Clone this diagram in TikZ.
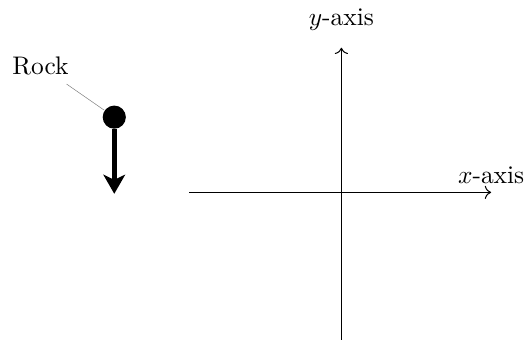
\documentclass[tikz,border=0pt]{standalone}
\usetikzlibrary{arrows.meta}
\begin{document}
\begin{tikzpicture}

\useasboundingbox (-4.72,-2.03) rectangle (2.58,2.66);

% Axes
\draw[->] (-2.1,0) -- (2.07,0) node[above] (xlabel) {$x$-axis};
\draw[->] (0,-2.1) -- (0,2.0);
\node[anchor=base] (ylabel) at (0,2.31) {$y$-axis};

% Rock and its fall
\node[circle,fill,inner sep=0pt,minimum size=0.32cm] (rock) at (-3.14,1.04) {};
\coordinate (ground) at (-3.14,-0.02);
\draw[line width=1.8pt,-{Stealth[length=7.5pt,width=8.5pt,inset=2pt]}] (rock) -- (ground);

% Label
\node[anchor=base] (rocklabel) at (-4.16,1.63) {Rock};
\draw[help lines] (rocklabel) -- (rock);

\end{tikzpicture}
\end{document}
